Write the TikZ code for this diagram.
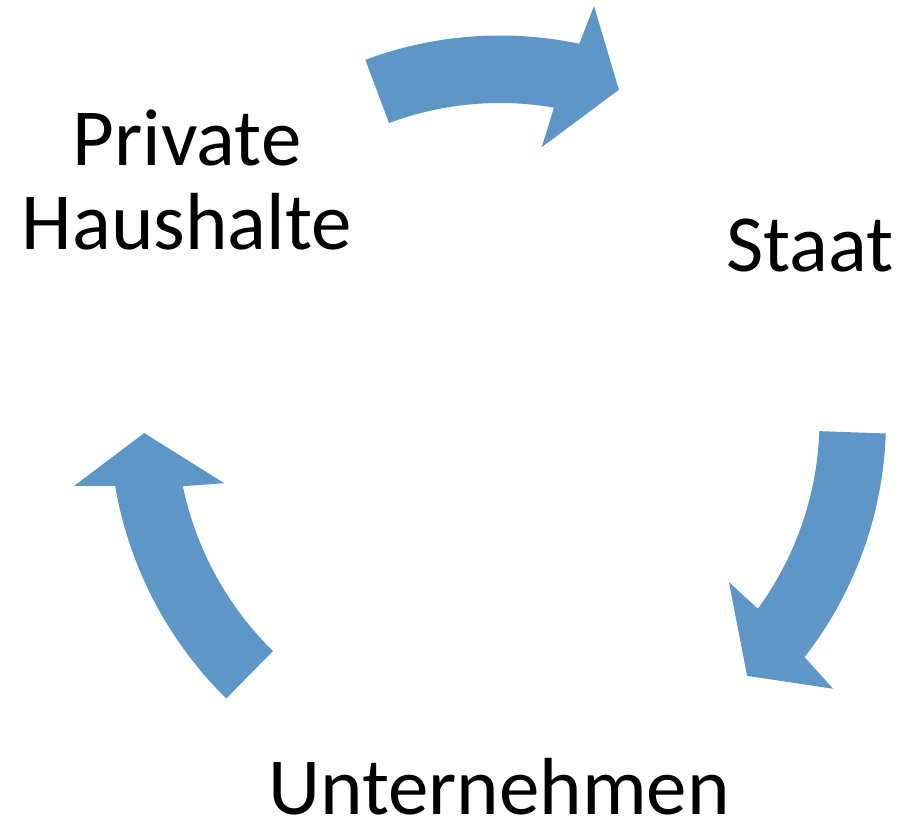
\documentclass[tikz,border=0pt]{standalone}
\usepackage{fontspec}
\setmainfont{Carlito}
\usetikzlibrary{calc}
\definecolor{arrowblue}{RGB}{95,150,200}
\tikzset{
  cyclearrow/.style={fill=arrowblue, draw=none},
  label/.style={inner sep=0pt, anchor=base, font=\fontsize{81}{84}\selectfont},
  multilabel/.style={label, align=center}
}
\begin{document}
\begin{tikzpicture}[x=1pt,y=1pt]
\useasboundingbox (0,0) rectangle (905,819);
\coordinate (c) at (500,399);
% top arrow
\fill[cyclearrow] ($(c)+(110.5:384.5)$) arc[start angle=110.5, end angle=78.1, radius=384.5]
  -- ($(c)+(77.2:424.5)$) -- ($(c)+(70.2:351)$) -- ($(c)+(81.3:276)$)
  -- ($(c)+(80.2:317)$) arc[start angle=80.2, end angle=110.5, radius=317] -- cycle;
% right arrow
\fill[cyclearrow] ($(c)+(-2:386)$) arc[start angle=-2, end angle=-37.9, radius=386]
  -- ($(c)+(-38.9:428)$) -- ($(c)+(-46:355.7)$) -- ($(c)+(-35.3:280.5)$)
  -- ($(c)+(-36.2:319.5)$) arc[start angle=-36.2, end angle=-2, radius=319.5] -- cycle;
% left arrow
\fill[cyclearrow] ($(c)+(225.5:390.5)$) arc[start angle=225.5, end angle=189.7, radius=390.5]
  -- ($(c)+(188.8:431)$) -- ($(c)+(182.1:356)$) -- ($(c)+(192.9:283)$)
  -- ($(c)+(191.8:324)$) arc[start angle=191.8, end angle=225.5, radius=324] -- cycle;
% labels
\node[multilabel] (haushalte) at (187,569) {Private\\Haushalte};
\node[label] (staat) at (810,547) {Staat};
\node[label] (unternehmen) at (499,4) {Unternehmen};
\end{tikzpicture}
\end{document}
